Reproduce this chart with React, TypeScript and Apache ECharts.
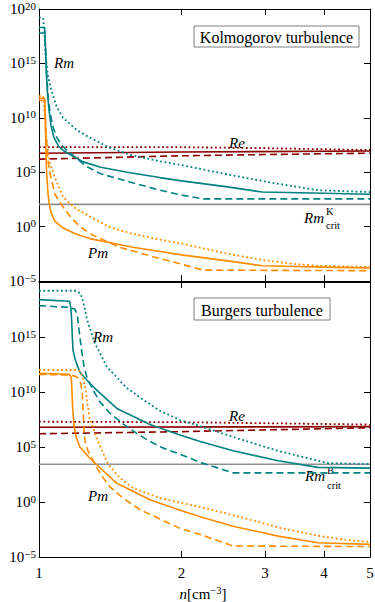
import React, { useEffect, useRef } from 'react';
import * as echarts from 'echarts';

type Pt = [number, number];

// ---------- Kolmogorov turbulence (top panel) ----------
const kRmSolid: Pt[] = [
  [1, 2.0e18], [1.028, 2.0e18], [1.032, 3.2e16], [1.036, 1.6e14], [1.042, 2.0e12], [1.05, 5.0e10],
  [1.06, 2.0e9], [1.075, 1.6e8], [1.1, 2.5e7], [1.125, 1.0e7], [1.165, 4.0e6], [1.24, 8.9e5],
  [1.35, 2.8e5], [1.556, 8.9e4], [1.8, 3.2e4], [2.0, 1.6e4], [2.5, 4.5e3], [2.96, 1.5e3],
  [4.0, 1.15e3], [5, 9.5e2],
];
const kRmDashed: Pt[] = [
  [1, 6.3e17], [1.028, 6.3e17], [1.033, 1.6e16], [1.038, 1.0e14], [1.045, 1.0e12], [1.055, 3.2e10],
  [1.07, 1.6e9], [1.09, 1.6e8], [1.115, 3.2e7], [1.146, 1.0e7], [1.2, 2.0e6], [1.25, 4.0e5],
  [1.35, 7.1e4], [1.556, 1.26e4], [1.8, 2.2e3], [2.0, 7.9e2], [2.22, 3.5e2], [3, 3.5e2], [5, 3.5e2],
];
const kRmDotted: Pt[] = [
  [1, 1.6e19], [1.02, 1.6e19], [1.025, 1.6e18], [1.032, 1.0e16], [1.042, 1.6e14], [1.052, 1.6e13],
  [1.064, 2.5e12], [1.09, 1.0e11], [1.124, 1.0e10], [1.2, 7.9e8], [1.26, 2.2e8], [1.4, 2.0e7],
  [1.556, 4.0e6], [1.8, 1.0e6], [2.0, 4.5e5], [2.5, 6.3e4], [3.0, 1.4e4], [3.5, 4.5e3],
  [3.88, 2.2e3], [5, 1.5e3],
];
const kPmSolid: Pt[] = [
  [1, 6.3e11], [1.028, 6.3e11], [1.031, 1e10], [1.034, 1e7], [1.038, 1e5], [1.044, 1.6e3],
  [1.05, 160], [1.06, 20], [1.08, 3.2], [1.124, 0.74], [1.2, 0.2], [1.28, 0.079], [1.556, 0.014],
  [2.0, 2.5e-3], [2.5, 7.1e-4], [2.96, 2.5e-4], [4, 1.9e-4], [5, 1.6e-4],
];
const kPmDashed: Pt[] = [
  [1, 4.0e11], [1.028, 4.0e11], [1.032, 1e10], [1.037, 1e8], [1.045, 1e6], [1.055, 7.9e4],
  [1.08, 1e3], [1.124, 63], [1.17, 6.3], [1.22, 1], [1.3, 0.16], [1.48, 0.0126], [1.75, 1.6e-3],
  [2.0, 3.5e-4], [2.22, 1.0e-4], [5, 8.9e-5],
];
const kPmDotted: Pt[] = [
  [1, 1e12], [1.02, 1e12], [1.025, 1e11], [1.032, 1e9], [1.04, 3.2e7], [1.055, 6.3e5],
  [1.08, 3.2e4], [1.124, 520], [1.2, 40], [1.26, 12.6], [1.4, 1], [1.556, 0.25], [1.8, 0.063],
  [2.0, 0.028], [2.5, 3.2e-3], [3.0, 7.9e-4], [3.5, 3.5e-4], [3.88, 2.5e-4], [5, 1.9e-4],
];
const kReSolid: Pt[] = [[1, 5.6e6], [2, 7.1e6], [5, 8.9e6]];
const kReDashed: Pt[] = [[1, 1.6e6], [1.5, 2.4e6], [2, 3.2e6], [3, 4.2e6], [5, 5.6e6]];
const kReDotted: Pt[] = [[1, 2.0e7], [2, 2.0e7], [3, 1.6e7], [5, 1.1e7]];
const kRmCrit: Pt[] = [[1, 110], [5, 110]];

// ---------- Burgers turbulence (bottom panel) ----------
const bRmSolid: Pt[] = [
  [1, 2.5e18], [1.16, 1.8e18], [1.168, 4.0e17], [1.172, 3.2e16], [1.176, 1e15], [1.18, 6.3e13],
  [1.19, 1.26e13], [1.2, 4.0e12], [1.22, 6.3e11], [1.28, 6.3e10], [1.326, 1.4e10], [1.46, 3.2e8],
  [1.715, 1.1e7], [1.985, 1.26e6], [2.19, 3.2e5], [2.57, 4.5e4], [3.2, 5.6e3], [3.88, 1.4e3],
  [5, 1.2e3],
];
const bRmDashed: Pt[] = [
  [1, 7.1e17], [1.15, 5.0e17], [1.19, 3.5e17], [1.205, 1e17], [1.212, 1e16], [1.22, 1e15],
  [1.232, 4.0e13], [1.245, 2.0e12], [1.263, 2.0e11], [1.3, 1.6e10], [1.345, 1.26e9], [1.41, 1.26e8],
  [1.505, 1.26e7], [1.6, 2.0e6], [1.7, 4.0e5], [1.83, 7.9e4], [1.985, 2.2e4], [2.19, 4.0e3],
  [2.57, 4.4e2], [5, 4.4e2],
];
const bRmDotted: Pt[] = [
  [1, 1.6e19], [1.2, 1.6e19], [1.225, 7.9e18], [1.24, 1.6e18], [1.263, 4.0e16], [1.31, 3.2e14],
  [1.39, 2.0e12], [1.53, 2.5e10], [1.66, 2.0e9], [1.8, 2.0e8], [1.985, 2.8e7], [2.19, 7.9e6],
  [2.66, 5.0e5], [3.23, 4.0e4], [4.06, 3.5e3], [5, 2.8e3],
];
const bPmSolid: Pt[] = [
  [1, 5.0e11], [1.16, 4.0e11], [1.17, 2.0e11], [1.174, 1e10], [1.178, 3.2e8], [1.185, 1e7],
  [1.2, 6.3e5], [1.22, 1e5], [1.28, 1e4], [1.326, 2.3e3], [1.46, 50], [1.715, 1.6], [1.985, 0.18],
  [2.19, 0.045], [2.57, 6.3e-3], [3.2, 7.9e-4], [3.88, 2.0e-4], [5, 1.4e-4],
];
const bPmDashed: Pt[] = [
  [1, 4.0e11], [1.16, 3.5e11], [1.2, 2.5e11], [1.225, 6.3e10], [1.235, 6.3e9], [1.24, 1e8],
  [1.245, 3.2e6], [1.25, 4.0e5], [1.27, 4.0e4], [1.3, 6.3e3], [1.35, 320], [1.41, 25], [1.5, 2.5],
  [1.635, 0.2], [1.985, 4.0e-3], [2.19, 1.1e-3], [2.57, 1.0e-4], [5, 8.9e-5],
];
const bPmDotted: Pt[] = [
  [1, 1e12], [1.2, 1e12], [1.22, 7.9e11], [1.235, 2.5e11], [1.25, 4.0e10], [1.265, 1e9],
  [1.28, 4.0e7], [1.33, 4.0e5], [1.399, 2.8e3], [1.48, 160], [1.58, 18.6], [1.8, 2.3],
  [2.19, 0.35], [2.66, 0.044], [3.23, 4.4e-3], [3.92, 8.1e-4], [4.47, 3.5e-4], [5, 2.3e-4],
];
const bReSolid: Pt[] = [[1, 6.3e6], [5, 7.1e6]];
const bReDashed: Pt[] = [[1, 1.6e6], [2, 2.5e6], [5, 5.6e6]];
const bReDotted: Pt[] = [[1, 2.0e7], [2, 1.8e7], [5, 1.1e7]];
const bRmCrit: Pt[] = [[1, 2700], [5, 2700]];

// ---------- ticks ----------
const xTickValues = [1, 2, 3, 4, 5];
const yTickValues = [1e-5, 1, 1e5, 1e10, 1e15, 1e20];
const yLabelsTop = [1e-5, 1, 1e5, 1e10, 1e15, 1e20];
const yLabelsBottom = [1e-5, 1, 1e5, 1e10, 1e15];

const TEAL = '#008080';
const ORANGE = '#ff8c00';
const RED = '#8b0000';
const GRAY = '#8f8f8f';
const FONT = 'Liberation Serif';

const DASH: Record<string, any> = { solid: 'solid', dashed: [7, 4], dotted: [1.8, 2.6] };

function mkLine(data: Pt[], color: string, style: string, panel: number, z = 3) {
  return {
    type: 'line',
    data,
    xAxisIndex: panel * 2,
    yAxisIndex: panel * 2,
    showSymbol: false,
    symbol: 'none',
    silent: true,
    z,
    clip: true,
    lineStyle: { color, width: style === 'dotted' ? 1.8 : 1.6, type: DASH[style], cap: 'butt' },
  };
}

function yFmt(v: number) {
  const e = Math.round(Math.log10(v));
  const s = e < 0 ? '\u2212' + String(-e) : String(e);
  return '{b|10}{s|' + s + '}';
}

function xAxis(grid: number, position: 'top' | 'bottom', labels: boolean) {
  return {
    type: 'log',
    logBase: 10,
    gridIndex: grid,
    position,
    min: 1,
    max: 5,
    axisLine: { show: true, onZero: false, lineStyle: { color: '#000', width: 1 } },
    axisTick: { show: true, inside: true, length: 6, customValues: xTickValues, lineStyle: { color: '#000', width: 1 } },
    minorTick: { show: false },
    splitLine: { show: false },
    axisLabel: {
      show: labels,
      customValues: xTickValues,
      formatter: (v: number) => String(Math.round(v)),
      fontFamily: FONT,
      fontSize: 15,
      color: '#000',
      margin: 8,
    },
  };
}

function yAxis(grid: number, position: 'left' | 'right', labels: number[] | null) {
  return {
    type: 'log',
    logBase: 10,
    gridIndex: grid,
    position,
    min: 1e-5,
    max: 1e20,
    axisLine: { show: true, onZero: false, lineStyle: { color: '#000', width: 1 } },
    axisTick: { show: true, inside: true, length: 6, customValues: yTickValues, lineStyle: { color: '#000', width: 1 } },
    minorTick: { show: false },
    splitLine: { show: false },
    axisLabel: {
      show: !!labels,
      customValues: labels || [],
      formatter: yFmt,
      margin: 3,
      color: '#000',
      fontFamily: FONT,
      rich: {
        b: { fontFamily: FONT, fontSize: 15, lineHeight: 18, color: '#000' },
        s: { fontFamily: FONT, fontSize: 11, lineHeight: 6, verticalAlign: 'top', color: '#000' },
      },
    },
  };
}

function italic(text: string, x: number, y: number, size = 15) {
  return {
    type: 'text',
    x,
    y,
    style: { text, fontFamily: FONT, fontStyle: 'italic', fontSize: size, fill: '#000', verticalAlign: 'middle' },
    silent: true,
  };
}
function small(text: string, x: number, y: number) {
  return {
    type: 'text',
    x,
    y,
    style: { text, fontFamily: FONT, fontSize: 10.5, fill: '#000', verticalAlign: 'middle' },
    silent: true,
  };
}
function box(text: string, x: number, y: number, w: number, h: number) {
  return {
    type: 'group',
    silent: true,
    children: [
      { type: 'rect', shape: { x, y, width: w, height: h }, style: { fill: '#fff', stroke: '#7f7f7f', lineWidth: 1 } },
      {
        type: 'text',
        x: x + w / 2,
        y: y + h / 2 + 1,
        style: { text, fontFamily: FONT, fontSize: 16, fill: '#000', align: 'center', verticalAlign: 'middle' },
      },
    ],
  };
}

export default function App() {
  const ref = useRef<HTMLDivElement>(null);
  useEffect(() => {
    if (!ref.current) return;
    const chart = echarts.init(ref.current, undefined, { renderer: 'svg' });
    const option: any = {
      animation: false,
      backgroundColor: '#fff',
      textStyle: { fontFamily: FONT },
      grid: [
        { left: 39, top: 9, width: 331, height: 272, outerBoundsMode: 'none', containLabel: false },
        { left: 39, top: 282, width: 331, height: 275, outerBoundsMode: 'none', containLabel: false },
      ],
      xAxis: [
        xAxis(0, 'bottom', false),
        xAxis(0, 'top', false),
        xAxis(1, 'bottom', true),
        xAxis(1, 'top', false),
      ],
      yAxis: [
        yAxis(0, 'left', yLabelsTop),
        yAxis(0, 'right', null),
        yAxis(1, 'left', yLabelsBottom),
        yAxis(1, 'right', null),
      ],
      series: [
        mkLine(kRmCrit, GRAY, 'solid', 0, 2),
        mkLine(kReSolid, RED, 'solid', 0),
        mkLine(kReDashed, RED, 'dashed', 0),
        mkLine(kReDotted, RED, 'dotted', 0),
        mkLine(kRmSolid, TEAL, 'solid', 0),
        mkLine(kRmDashed, TEAL, 'dashed', 0),
        mkLine(kRmDotted, TEAL, 'dotted', 0),
        mkLine(kPmSolid, ORANGE, 'solid', 0),
        mkLine(kPmDashed, ORANGE, 'dashed', 0),
        mkLine(kPmDotted, ORANGE, 'dotted', 0),

        mkLine(bRmCrit, GRAY, 'solid', 1, 2),
        mkLine(bReSolid, RED, 'solid', 1),
        mkLine(bReDashed, RED, 'dashed', 1),
        mkLine(bReDotted, RED, 'dotted', 1),
        mkLine(bRmSolid, TEAL, 'solid', 1),
        mkLine(bRmDashed, TEAL, 'dashed', 1),
        mkLine(bRmDotted, TEAL, 'dotted', 1),
        mkLine(bPmSolid, ORANGE, 'solid', 1),
        mkLine(bPmDashed, ORANGE, 'dashed', 1),
        mkLine(bPmDotted, ORANGE, 'dotted', 1),
      ],
      graphic: [
        box('Kolmogorov turbulence', 194, 26, 165, 21),
        box('Burgers turbulence', 194, 298, 136, 22),
        italic('Rm', 54, 63),
        italic('Re', 229, 143),
        italic('Pm', 88, 253),
        italic('Rm', 304, 218),
        small('K', 326, 211),
        small('crit', 326, 225),
        italic('Rm', 93, 337),
        italic('Re', 229, 416),
        italic('Pm', 88, 496),
        italic('Rm', 305, 476),
        small('B', 327, 470),
        small('crit', 327, 485),
        {
          type: 'text',
          x: 203,
          y: 594,
          style: {
            text: '{i|n}{r|[cm}{s|\u22123}{r|]}',
            align: 'center',
            verticalAlign: 'middle',
            rich: {
              i: { fontFamily: FONT, fontStyle: 'italic', fontSize: 15, lineHeight: 18, fill: '#000' },
              r: { fontFamily: FONT, fontSize: 15, lineHeight: 18, fill: '#000' },
              s: { fontFamily: FONT, fontSize: 10.5, lineHeight: 6, verticalAlign: 'top', fill: '#000' },
            },
          },
        },
      ],
    };
    chart.setOption(option);
    return () => chart.dispose();
  }, []);
  return (
    <div
      ref={ref}
      style={{ position: 'fixed', left: 0, top: 0, width: 375, height: 602, background: '#fff' }}
    />
  );
}
